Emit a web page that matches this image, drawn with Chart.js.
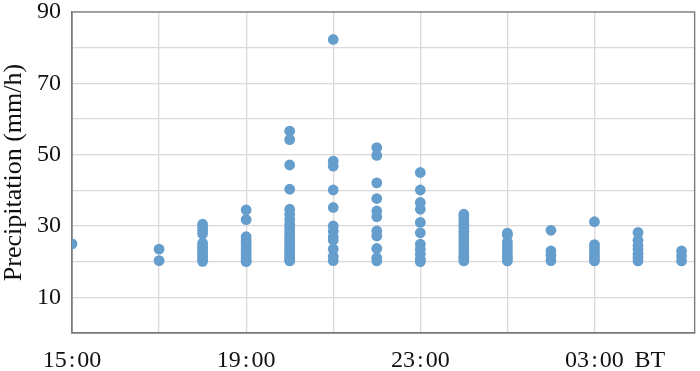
<!DOCTYPE html>
<html>
<head>
<meta charset="utf-8">
<script src="https://cdn.jsdelivr.net/npm/chart.js@4/dist/chart.umd.min.js"></script>
<style>
  html, body { margin: 0; padding: 0; background: #fff; }
  #wrap { width: 700px; height: 371px; }
</style>
</head>
<body>
<div id="wrap"><canvas id="precipChart"></canvas></div>
<script>
// hours after 15:00 BT, one column of points per hour
const hourOffsets = [0, 2, 3, 4, 5, 6, 7, 8, 9, 10, 11, 12, 13, 14];

// hourly precipitation (mm/h) of each station, per hour
const p1500 = [25.0];
const p1700 = [23.5, 20.3];
const p1800 = [30.5, 29.8, 28.8, 27.8, 25.2, 24.3, 23.6, 22.8, 22.0, 21.2, 20.5, 20.1];
const p1900 = [34.5, 31.8, 27.0, 26.0, 25.2, 24.4, 23.5, 22.6, 21.8, 21.0, 20.4, 20.0];
const p2000 = [56.6, 54.2, 47.1, 40.3, 34.7, 33.3, 31.8, 30.5, 29.5, 28.6, 27.6, 26.8, 26.0, 25.1, 24.3, 23.5, 22.7, 22.0, 21.3, 20.7, 20.2];
const p2100 = [82.3, 48.2, 46.8, 40.1, 35.2, 30.0, 28.5, 27.0, 26.0, 23.5, 21.5, 20.3];
const p2200 = [52.0, 49.8, 42.1, 37.7, 34.2, 32.6, 28.6, 27.2, 23.7, 21.1, 20.2];
const p2300 = [45.0, 40.1, 36.6, 34.7, 31.0, 28.1, 24.9, 23.5, 22.1, 20.7, 20.0];
const p0000 = [33.3, 32.5, 31.5, 30.5, 29.5, 28.5, 27.5, 26.5, 25.5, 24.5, 23.5, 22.5, 21.5, 20.8, 20.2];
const p0100 = [28.0, 27.4, 25.5, 24.5, 23.5, 22.5, 21.5, 20.8, 20.2];
const p0200 = [28.8, 23.0, 21.8, 20.3];
const p0300 = [31.2, 24.8, 23.8, 22.8, 21.8, 21.0, 20.2];
const p0400 = [28.2, 26.0, 24.5, 23.5, 22.2, 21.2, 20.2];
const p0500 = [23.0, 21.6, 20.2];

// tick labels on the time axis
const timeTickLabels = { 0: '15\u200a:\u200a00', 4: '19\u200a:\u200a00', 8: '23\u200a:\u200a00', 12: '03\u200a:\u200a00' };
const yTickLabels = [10, 30, 50, 70, 90];

const columns = [p1500, p1700, p1800, p1900, p2000, p2100, p2200, p2300, p0000, p0100, p0200, p0300, p0400, p0500];
const points = [];
columns.forEach((vals, i) => {
  vals.forEach(v => points.push({ x: hourOffsets[i], y: v }));
});

const FONT = "'Liberation Serif', 'Times New Roman', serif";
const GRID = '#dcd7db';
const FRAME = '#7a7a7a';

// plot frame on all four sides, and the "BT" unit after the last time label
const frameAndUnit = {
  id: 'frameAndUnit',
  beforeDatasetsDraw(chart) {
    const { ctx, chartArea: a } = chart;
    ctx.save();
    ctx.strokeStyle = FRAME;
    ctx.lineWidth = 1.3;
    ctx.strokeRect(a.left, a.top, a.right - a.left, a.bottom - a.top);
    ctx.restore();
  },
  afterDraw(chart) {
    const { ctx, scales } = chart;
    const x = scales.x.getPixelForValue(12);
    ctx.save();
    ctx.font = '24px ' + FONT;
    ctx.fillStyle = '#111';
    ctx.textBaseline = 'middle';
    ctx.textAlign = 'left';
    ctx.fillText('BT', x + 40, 361);
    ctx.restore();
  }
};

const ctxPrecip = document.getElementById('precipChart');
new Chart(ctxPrecip, {
  type: 'scatter',
  data: {
    datasets: [
      {
        label: 'Precipitation',
        data: points,
        backgroundColor: '#659ecd',
        borderColor: '#659ecd',
        borderWidth: 0,
        pointRadius: 5.4,
        pointHoverRadius: 5.4
      }
    ]
  },
  options: {
    responsive: true,
    maintainAspectRatio: false,
    animation: false,
    events: [],
    layout: { padding: { top: 0, right: 1, left: 0, bottom: 0 } },
    plugins: {
      legend: { display: false },
      tooltip: { enabled: false }
    },
    scales: {
      x: {
        type: 'linear',
        min: 0,
        max: 14.3,
        grid: { color: GRID, lineWidth: 1.3, drawTicks: false },
        border: { color: FRAME, width: 1.3 },
        ticks: {
          stepSize: 2,
          autoSkip: false,
          maxRotation: 0,
          padding: 15,
          color: '#111',
          font: { family: FONT, size: 24, lineHeight: 1.1 },
          callback: v => timeTickLabels[v] || ''
        },
        afterFit: s => { s.height = 38; s.paddingLeft = 0; s.paddingRight = 0; }
      },
      y: {
        min: 0,
        max: 90,
        grid: { color: GRID, lineWidth: 1.3, drawTicks: false },
        border: { color: FRAME, width: 1.3 },
        ticks: {
          stepSize: 10,
          padding: 11,
          color: '#111',
          font: { family: FONT, size: 24, lineHeight: 1.1 },
          callback: v => (yTickLabels.includes(v) ? String(v) : '')
        },
        title: {
          display: true,
          text: 'Precipitation (mm/h)',
          color: '#111',
          font: { family: FONT, size: 26, lineHeight: 1.1 },
          padding: 0
        },
        afterFit: s => { s.width = 72; s.paddingTop = 12; s.paddingBottom = 0; }
      }
    }
  },
  plugins: [frameAndUnit]
});
</script>
</body>
</html>
